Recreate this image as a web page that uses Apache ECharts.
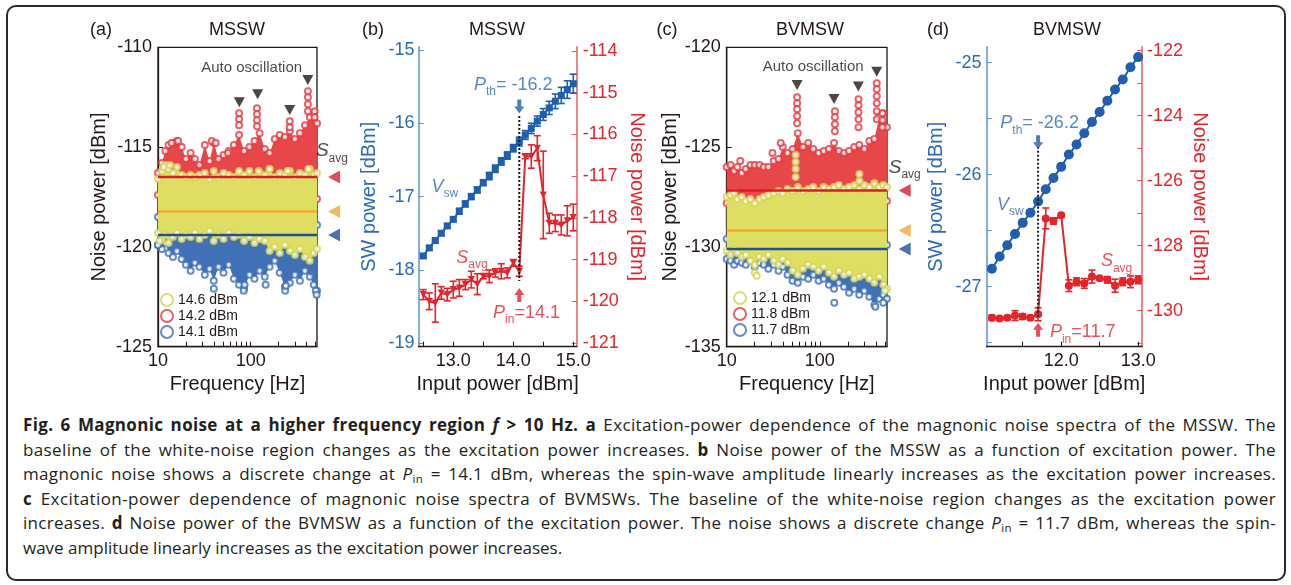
<!DOCTYPE html>
<html>
<head>
<meta charset="utf-8">
<title>Fig. 6 Magnonic noise</title>
<script src="https://cdn.jsdelivr.net/npm/echarts@6/dist/echarts.min.js"></script>
<style>
  html, body { margin: 0; padding: 0; background: #fff; }
  #frame { position: absolute; left: 6px; top: 5px; width: 1280px; height: 576px; box-sizing: border-box;
           border: 2px solid #2b2b2b; border-radius: 10px; }
  #chart { position: absolute; left: 0; top: 0; width: 1291px; height: 400px; }
  #caption { position: absolute; left: 23px; top: 413px; width: 1253px; color: #231f20;
             font-family: "Open Sans", "Noto Sans", sans-serif; font-size: 17px; line-height: 24.5px; }
  #caption .ln { white-space: nowrap; }
  #caption sub { font-size: 11.5px; line-height: 0; vertical-align: -3px; }
</style>
</head>
<body>
<div id="frame"></div>
<div id="chart"></div>
<div id="caption">
  <div class="ln"><span><b>Fig. 6 Magnonic noise at a higher frequency region <i>f</i> &gt; 10 Hz. a</b> Excitation-power dependence of the magnonic noise spectra of the MSSW. The</span></div>
  <div class="ln"><span>baseline of the white-noise region changes as the excitation power increases. <b>b</b> Noise power of the MSSW as a function of excitation power. The</span></div>
  <div class="ln"><span>magnonic noise shows a discrete change at <i>P</i><sub>in</sub> = 14.1 dBm, whereas the spin-wave amplitude linearly increases as the excitation power increases.</span></div>
  <div class="ln"><span><b>c</b> Excitation-power dependence of magnonic noise spectra of BVMSWs. The baseline of the white-noise region changes as the excitation power</span></div>
  <div class="ln"><span>increases. <b>d</b> Noise power of the BVMSW as a function of the excitation power. The noise shows a discrete change <i>P</i><sub>in</sub> = 11.7 dBm, whereas the spin-</span></div>
  <div class="ln last"><span>wave amplitude linearly increases as the excitation power increases.</span></div>
</div>
<script>
// ---- panel (a): MSSW noise spectra (envelopes)
const freqA = [10, 11, 12, 13, 14.5, 16, 18, 20, 22.5, 25, 28, 32, 36, 40, 45, 51, 58, 66, 75, 85, 97, 110, 125, 142, 160, 182, 206, 234, 265, 300, 340, 385, 435, 480, 520];
const redHiA = [-116.3, -115.8, -115.2, -114.9, -114.8, -114.7, -115.0, -115.6, -115.3, -115.6, -115.9, -114.9, -115.7, -114.8, -115.6, -115.4, -115.2, -114.9, -114.4, -115.2, -115.0, -114.7, -114.3, -115.1, -115.3, -114.6, -114.4, -114.5, -114.2, -114.6, -114.3, -113.9, -113.5, -113.3, -113.8];
const redLoA = [-117.4, -117.8, -118.0, -117.9, -117.6, -117.8, -117.5, -117.7, -117.6, -117.4, -117.7, -117.5, -117.6, -117.5, -117.7, -117.4, -117.6, -117.5, -117.4, -117.6, -117.5, -117.6, -117.4, -117.5, -117.6, -117.5, -117.4, -117.6, -117.5, -117.4, -117.5, -117.6, -117.4, -117.5, -117.6];
const yelHiA = [-116.6, -116.2, -115.9, -116.1, -116.3, -116.0, -116.4, -116.5, -116.4, -116.5, -116.4, -116.3, -116.6, -116.2, -116.5, -116.3, -116.4, -116.5, -116.3, -116.4, -116.2, -116.5, -116.3, -116.4, -116.1, -116.5, -116.3, -116.4, -116.2, -116.5, -116.3, -116.4, -116.1, -116.4, -116.3];
const yelLoA = [-119.3, -119.6, -119.4, -119.8, -119.5, -119.3, -119.6, -119.4, -119.5, -119.3, -119.6, -119.4, -119.2, -119.7, -119.4, -119.6, -119.3, -119.5, -119.4, -119.7, -119.5, -119.8, -119.6, -119.7, -120.2, -120.0, -120.3, -119.9, -120.2, -120.4, -120.1, -120.5, -120.7, -120.3, -120.1];
const bluHiA = [-118.5, -118.6, -118.8, -118.9, -119.0, -118.8, -119.0, -118.9, -119.0, -118.9, -119.0, -118.9, -118.7, -118.6, -118.9, -119.0, -118.8, -118.9, -119.0, -118.9, -118.8, -119.0, -118.9, -119.0, -118.9, -119.0, -118.9, -119.0, -118.8, -118.9, -119.0, -118.9, -119.0, -118.8, -118.9];
const bluLoA = [-119.9, -120.1, -119.8, -120.3, -120.5, -120.2, -120.6, -120.9, -121.2, -120.8, -121.0, -121.4, -121.1, -121.7, -121.0, -121.3, -120.9, -121.6, -121.9, -122.1, -121.4, -121.6, -121.2, -121.5, -121.0, -120.7, -121.3, -122.0, -121.8, -121.4, -121.7, -121.2, -121.5, -121.9, -122.2];
const redSpikeA = [[75, -113.3], [75, -113.6], [75, -113.9], [117, -113.05], [117, -113.35], [117, -113.65], [117, -113.95], [264, -113.7], [264, -114.0], [415, -112.2], [415, -112.5], [415, -112.85], [415, -113.2], [490, -113.2], [490, -113.5], [14, -114.8], [16.5, -114.7], [38, -114.7], [42, -114.8], [57, -115.3]];
const yelSpikeA = [[10.4, -119.7], [11.5, -116.0], [13.5, -115.9], [75, -116.2], [122, -116.2], [160, -116.1], [250, -116.2], [420, -116.1]];
const bluSpikeA = [[10, -119.9], [40, -122.1], [84, -122.2], [86, -121.9], [145, -121.9], [236, -122.2], [240, -121.95], [505, -122.2], [515, -122.4]];
const sAvgA = [-116.5, -118.23, -119.4];
const autoOscA = [[75.5, -112.75], [119, -112.35], [264, -113.14], [414, -111.64]];
const legendA = ['14.6 dBm', '14.2 dBm', '14.1 dBm'];

// ---- panel (b): MSSW power sweep
const pinB = [12.5, 12.6, 12.7, 12.8, 12.9, 13.0, 13.1, 13.2, 13.3, 13.4, 13.5, 13.6, 13.7, 13.8, 13.9, 14.0, 14.1, 14.2, 14.3, 14.4, 14.5, 14.6, 14.7, 14.8, 14.9, 15.0];
const vswB = [-17.81, -17.70, -17.60, -17.50, -17.40, -17.31, -17.20, -17.10, -17.00, -16.91, -16.81, -16.72, -16.62, -16.52, -16.44, -16.34, -16.25, -16.16, -16.07, -15.97, -15.88, -15.79, -15.70, -15.62, -15.54, -15.46];
const vswErrB = [0.03, 0.03, 0.03, 0.03, 0.03, 0.03, 0.04, 0.04, 0.04, 0.04, 0.04, 0.05, 0.05, 0.05, 0.05, 0.05, 0.06, 0.06, 0.07, 0.07, 0.08, 0.09, 0.10, 0.11, 0.12, 0.13];
const savgB = [-119.84, -120.00, -120.04, -119.80, -119.84, -119.72, -119.68, -119.60, -119.48, -119.59, -119.40, -119.40, -119.32, -119.28, -119.32, -119.08, -119.28, -116.53, -116.53, -116.33, -117.45, -118.13, -118.13, -118.17, -118.07, -117.99];
const savgErrB = [0.12, 0.2, 0.46, 0.15, 0.15, 0.2, 0.2, 0.12, 0.2, 0.25, 0.06, 0.15, 0.1, 0.18, 0.12, 0.08, 0.12, 0.05, 0.28, 0.3, 1.05, 0.24, 0.2, 0.24, 0.36, 0.32];
const dotB = [[14.1, -15.9], [14.1, -18.15]];

// ---- panel (c): BVMSW noise spectra
const freqC = [10, 11, 12, 13, 14.5, 16, 18, 20, 22.5, 25, 28, 32, 36, 40, 45, 51, 58, 66, 75, 85, 97, 110, 125, 142, 160, 182, 206, 234, 265, 300, 340, 385, 435, 480, 525];
const redHiC = [-126.0, -125.9, -126.2, -126.0, -126.3, -126.1, -125.9, -125.9, -125.9, -126.0, -126.0, -125.7, -125.6, -125.0, -125.3, -125.1, -124.3, -125.0, -124.8, -125.1, -125.3, -125.2, -125.1, -124.8, -125.2, -125.3, -125.2, -125.0, -124.9, -125.1, -124.7, -124.6, -123.5, -123.3, -124.0];
const redLoC = [-127.8, -127.6, -128.0, -128.3, -128.4, -128.2, -128.0, -127.9, -127.8, -127.7, -127.8, -127.6, -127.7, -127.6, -127.8, -127.7, -127.6, -127.8, -127.7, -127.6, -127.7, -127.8, -127.6, -127.7, -127.6, -127.8, -127.7, -127.6, -127.7, -127.8, -127.6, -127.7, -127.6, -127.8, -127.7];
const yelHiC = [-127.5, -127.4, -127.3, -127.6, -127.5, -127.7, -127.6, -127.8, -127.6, -127.5, -127.4, -127.3, -127.2, -127.3, -127.1, -127.2, -127.0, -127.2, -127.1, -127.0, -127.2, -127.0, -127.1, -127.0, -126.9, -127.1, -127.0, -126.9, -127.1, -126.9, -127.0, -126.8, -127.0, -126.9, -127.0];
const yelLoC = [-130.2, -130.4, -130.1, -130.3, -130.5, -130.4, -130.7, -130.9, -130.5, -130.6, -130.4, -130.7, -130.9, -130.6, -130.8, -131.2, -131.4, -131.1, -130.9, -131.0, -131.2, -131.0, -131.3, -131.5, -131.2, -131.4, -131.3, -131.6, -131.5, -131.4, -131.6, -131.8, -131.5, -131.9, -132.1];
const bluHiC = [-129.6, -129.5, -129.8, -129.7, -129.6, -129.8, -129.7, -129.9, -129.8, -129.6, -129.8, -129.7, -129.9, -129.8, -129.9, -129.8, -129.9, -129.8, -129.9, -129.8, -129.9, -129.8, -129.9, -129.8, -129.9, -129.8, -129.9, -129.8, -129.9, -129.8, -129.9, -129.8, -129.9, -129.8, -129.9];
const bluLoC = [-130.6, -130.7, -130.9, -130.7, -130.8, -130.9, -130.7, -131.0, -130.8, -130.9, -131.1, -130.9, -131.2, -131.0, -131.4, -131.7, -131.8, -131.5, -131.6, -131.4, -131.7, -131.6, -131.9, -132.1, -131.8, -132.0, -132.3, -132.1, -132.4, -132.2, -132.5, -132.9, -132.6, -132.4, -132.6];
const redSpikeC = [[57, -122.5], [57, -122.8], [57, -123.1], [57, -123.45], [57, -123.8], [145, -123.2], [145, -123.5], [145, -123.85], [145, -124.2], [260, -122.6], [260, -122.9], [260, -123.25], [260, -123.6], [260, -124.0], [408, -121.8], [408, -122.1], [408, -122.45], [408, -122.8], [408, -123.2], [408, -123.6], [470, -123.3], [470, -123.65], [470, -124.0], [38, -124.8], [31, -125.3], [14, -125.7]];
const yelSpikeC = [[55, -125.4], [55, -125.75], [55, -126.1], [55, -126.5], [266, -126.35], [266, -126.7], [20, -131.3], [21, -131.45], [500, -132.2]];
const bluSpikeC = [[143, -132.8], [395, -133.0], [480, -132.8]];
const sAvgC = [-127.18, -129.18, -130.1];
const autoOscC = [[57, -121.89], [142, -122.59], [259, -121.97], [408, -121.22]];
const legendC = ['12.1 dBm', '11.8 dBm', '11.7 dBm'];

// ---- panel (d): BVMSW power sweep
const pinD = [11.1, 11.2, 11.3, 11.4, 11.5, 11.6, 11.7, 11.8, 11.9, 12.0, 12.1, 12.2, 12.3, 12.4, 12.5, 12.6, 12.7, 12.8, 12.9, 13.0];
const vswD = [-26.84, -26.73, -26.63, -26.53, -26.43, -26.34, -26.24, -26.13, -26.03, -25.93, -25.82, -25.73, -25.63, -25.53, -25.44, -25.34, -25.24, -25.15, -25.04, -24.95];
const vswErrD = [0.02, 0.02, 0.02, 0.02, 0.02, 0.02, 0.02, 0.02, 0.02, 0.02, 0.02, 0.02, 0.02, 0.02, 0.02, 0.02, 0.02, 0.02, 0.02, 0.02];
const savgD = [-130.22, -130.24, -130.22, -130.15, -130.18, -130.22, -130.11, -127.16, -127.24, -127.06, -129.23, -129.11, -129.16, -128.95, -129.0, -129.05, -129.23, -129.11, -129.11, -129.05];
const savgErrD = [0.08, 0.05, 0.06, 0.15, 0.08, 0.06, 0.2, 0.32, 0.1, 0.05, 0.18, 0.12, 0.15, 0.2, 0.05, 0.1, 0.2, 0.12, 0.18, 0.12];
const dotD = [[11.7, -25.75], [11.7, -27.28]];

// tick values
const logTicks = [10, 20, 30, 40, 50, 60, 70, 80, 90, 100, 200, 300, 400, 500];
const logLabels = [10, 100];

const FONT = '"Liberation Sans", Arial, Helvetica, sans-serif';
const DARK = '#231815';
const BLUE = '#1f5fae', BLUE_TXT = '#2b6bb6', BLUE_AX = '#5b90d0';
const RED = '#e5232b', RED_TXT = '#e3262e', RED_AX = '#ec5a5f';
const CLOUD = { red: '#e8474a', yel: '#dedf62', blu: '#4070b6' };
const CIRC = { red: '#e63a3e', yel: '#d4d552', blu: '#3f6fb8' };
const SAVG = { red: '#dc1c28', yel: '#f3a833', blu: '#1f4f9e' };

const txt = (color, size) => ({ color, fontSize: size, fontFamily: FONT });
const sub = (color, big) => ({
  i: { fontFamily: FONT, fontStyle: 'italic', fontSize: big, color, verticalAlign: 'bottom', padding: [0, 0, 4, 0] },
  s: { fontFamily: FONT, fontSize: 12, color, verticalAlign: 'bottom' },
  n: { fontFamily: FONT, fontSize: big, color, verticalAlign: 'bottom', padding: [0, 0, 4, 0] }
});

// filled cloud between an upper and a lower envelope
function cloud(xi, yi, fs, hi, lo, color, z) {
  return {
    type: 'custom', xAxisIndex: xi, yAxisIndex: yi, silent: true, z,
    data: fs.map((f, i) => [f, hi[i], lo[i]]),
    encode: { x: 0, y: [1, 2] },
    renderItem: (params, api) => {
      if (params.dataIndex !== 0) return;
      const top = fs.map((f, i) => api.coord([f, hi[i]]));
      const bot = fs.map((f, i) => api.coord([f, lo[i]])).reverse();
      return { type: 'polygon', shape: { points: top.concat(bot) }, style: { fill: color } };
    }
  };
}

// open circles along the cloud edges plus outliers
function rim(name, xi, yi, fs, hi, lo, extra, color, z) {
  const pts = fs.map((f, i) => [f, hi[i]]).concat(fs.map((f, i) => [f, lo[i]]), extra);
  return {
    name, type: 'scatter', xAxisIndex: xi, yAxisIndex: yi, data: pts, z,
    symbol: 'emptyCircle', symbolSize: 6,
    itemStyle: { color, borderWidth: 1.3 }
  };
}

function errBars(xi, yi, xs, ys, es, color) {
  return {
    type: 'custom', xAxisIndex: xi, yAxisIndex: yi, silent: true, z: 3,
    data: xs.map((x, i) => [x, ys[i] - es[i], ys[i] + es[i]]),
    encode: { x: 0, y: [1, 2] },
    renderItem: (params, api) => {
      const a = api.coord([api.value(0), api.value(1)]);
      const b = api.coord([api.value(0), api.value(2)]);
      const w = 3.5, st = { stroke: color, lineWidth: 1.6 };
      return { type: 'group', children: [
        { type: 'line', shape: { x1: a[0], y1: a[1], x2: b[0], y2: b[1] }, style: st },
        { type: 'line', shape: { x1: a[0] - w, y1: a[1], x2: a[0] + w, y2: a[1] }, style: st },
        { type: 'line', shape: { x1: b[0] - w, y1: b[1], x2: b[0] + w, y2: b[1] }, style: st }
      ] };
    }
  };
}

function note(xi, yi, pt, text, rich, color, size) {
  return {
    type: 'scatter', xAxisIndex: xi, yAxisIndex: yi, data: [pt], symbolSize: 0, silent: true, clip: false, z: 20,
    label: { show: true, position: 'inside', formatter: text, rich, color, fontSize: size, fontFamily: FONT }
  };
}

function hline(xi, yi, x0, x1, v, color) {
  return { type: 'line', xAxisIndex: xi, yAxisIndex: yi, data: [[x0, v], [x1, v]], symbol: 'none',
           lineStyle: { color, width: 2.5 }, z: 9, silent: true };
}

const ARROW_DOWN = 'path://M3,0 L7,0 L7,7 L10,7 L5,14 L0,7 L3,7 Z';
const ARROW_UP = 'path://M5,0 L10,7 L7,7 L7,14 L3,14 L3,7 L0,7 Z';

const chart = echarts.init(document.getElementById('chart'), null, { renderer: 'canvas' });

const boxAxis = { lineStyle: { color: DARK, width: 1.3 } };

const option = {
  animation: false,
  backgroundColor: 'transparent',
  textStyle: { fontFamily: FONT },
  grid: [
    { left: 158, top: 47.3, width: 159, height: 299.4, show: true, borderColor: DARK, borderWidth: 1.3, backgroundColor: 'transparent' },
    { left: 418.5, top: 46.7, width: 158.2, height: 300 },
    { left: 726.7, top: 47.3, width: 160.3, height: 299.4, show: true, borderColor: DARK, borderWidth: 1.3, backgroundColor: 'transparent' },
    { left: 986.5, top: 46.7, width: 155.5, height: 300 }
  ],
  xAxis: [
    { type: 'log', logBase: 10, gridIndex: 0, min: 10, max: 520, axisLine: boxAxis,
      axisTick: { inside: true, length: 5, customValues: logTicks, lineStyle: { color: DARK } },
      axisLabel: { customValues: logLabels, margin: 5, ...txt(DARK, 18) },
      splitLine: { show: false },
      name: 'Frequency [Hz]', nameLocation: 'middle', nameGap: 24, nameTextStyle: txt(DARK, 20) },
    { type: 'value', gridIndex: 1, min: 12.42, max: 15.057,
      axisLine: { lineStyle: { color: DARK, width: 1.3 } },
      axisTick: { inside: true, length: 5, customValues: [12.5, 13, 13.5, 14, 14.5, 15], lineStyle: { color: DARK } },
      axisLabel: { customValues: [13, 14, 15], formatter: v => v.toFixed(1), margin: 5, ...txt(DARK, 18) },
      splitLine: { show: false },
      name: 'Input power [dBm]', nameLocation: 'middle', nameGap: 24, nameTextStyle: txt(DARK, 20) },
    { type: 'log', logBase: 10, gridIndex: 2, min: 10, max: 526, axisLine: boxAxis,
      axisTick: { inside: true, length: 5, customValues: logTicks, lineStyle: { color: DARK } },
      axisLabel: { customValues: logLabels, margin: 5, ...txt(DARK, 18) },
      splitLine: { show: false },
      name: 'Frequency [Hz]', nameLocation: 'middle', nameGap: 24, nameTextStyle: txt(DARK, 20) },
    { type: 'value', gridIndex: 3, min: 11.03, max: 13.05,
      axisLine: { lineStyle: { color: DARK, width: 1.3 } },
      axisTick: { inside: true, length: 5, customValues: [11.5, 12, 12.5, 13], lineStyle: { color: DARK } },
      axisLabel: { customValues: [12, 13], formatter: v => v.toFixed(1), margin: 5, ...txt(DARK, 18) },
      splitLine: { show: false },
      name: 'Input power [dBm]', nameLocation: 'middle', nameGap: 24, nameTextStyle: txt(DARK, 20) }
  ],
  yAxis: [
    { type: 'value', gridIndex: 0, min: -125, max: -110, interval: 5, axisLine: { show: true, ...boxAxis },
      axisTick: { show: true, inside: true, length: 5, lineStyle: { color: DARK } },
      axisLabel: { margin: 6, ...txt(DARK, 18) }, splitLine: { show: false },
      name: 'Noise power [dBm]', nameLocation: 'middle', nameGap: 49, nameTextStyle: txt(DARK, 20) },
    { type: 'value', gridIndex: 1, min: -19.048, max: -14.955,
      axisLine: { show: true, lineStyle: { color: BLUE_AX, width: 1.5 } },
      axisTick: { show: true, inside: true, length: 5, customValues: [-19, -18, -17, -16, -15], lineStyle: { color: BLUE_AX } },
      axisLabel: { customValues: [-19, -18, -17, -16, -15], margin: 4, ...txt(BLUE_TXT, 18) }, splitLine: { show: false },
      name: 'SW power [dBm]', nameLocation: 'middle', nameGap: 39, nameTextStyle: txt(BLUE_TXT, 20) },
    { type: 'value', gridIndex: 1, position: 'right', min: -121.089, max: -113.897,
      axisLine: { show: true, lineStyle: { color: RED_AX, width: 1.5 } },
      axisTick: { show: true, inside: true, length: 5, customValues: [-121, -120, -119, -118, -117, -116, -115, -114], lineStyle: { color: RED_AX } },
      axisLabel: { customValues: [-121, -120, -119, -118, -117, -116, -115, -114], margin: 6, ...txt(RED_TXT, 18) }, splitLine: { show: false },
      name: 'Noise power [dBm]', nameLocation: 'middle', nameRotate: -90, nameGap: 50, nameTextStyle: txt(RED_TXT, 20) },
    { type: 'value', gridIndex: 2, min: -135, max: -120, interval: 5, axisLine: { show: true, ...boxAxis },
      axisTick: { show: true, inside: true, length: 5, lineStyle: { color: DARK } },
      axisLabel: { margin: 6, ...txt(DARK, 18) }, splitLine: { show: false },
      name: 'Noise power [dBm]', nameLocation: 'middle', nameGap: 45, nameTextStyle: txt(DARK, 20) },
    { type: 'value', gridIndex: 3, min: -27.536, max: -24.857,
      axisLine: { show: true, lineStyle: { color: BLUE_AX, width: 1.5 } },
      axisTick: { show: true, inside: true, length: 5, customValues: [-27.5, -27, -26.5, -26, -25.5, -25], lineStyle: { color: BLUE_AX } },
      axisLabel: { customValues: [-27, -26, -25], margin: 5, ...txt(BLUE_TXT, 18) }, splitLine: { show: false },
      name: 'SW power [dBm]', nameLocation: 'middle', nameGap: 40, nameTextStyle: txt(BLUE_TXT, 20) },
    { type: 'value', gridIndex: 3, position: 'right', min: -131.108, max: -121.877,
      axisLine: { show: true, lineStyle: { color: RED_AX, width: 1.5 } },
      axisTick: { show: true, inside: true, length: 5, customValues: [-131, -130, -129, -128, -127, -126, -125, -124, -123, -122], lineStyle: { color: RED_AX } },
      axisLabel: { customValues: [-130, -128, -126, -124, -122], margin: 5, ...txt(RED_TXT, 18) }, splitLine: { show: false },
      name: 'Noise power [dBm]', nameLocation: 'middle', nameRotate: -90, nameGap: 48, nameTextStyle: txt(RED_TXT, 20) }
  ],
  legend: [
    { data: legendA, orient: 'vertical', left: 160, top: 293, itemGap: 2, itemWidth: 12, itemHeight: 12, padding: 0,
      selectedMode: false, textStyle: txt(DARK, 14) },
    { data: legendC, orient: 'vertical', left: 733, top: 291, itemGap: 2, itemWidth: 12, itemHeight: 12, padding: 0,
      selectedMode: false, textStyle: txt(DARK, 14) }
  ],
  graphic: [
    { type: 'text', x: 101, y: 30, style: { text: '(a)', font: '18px ' + FONT, fill: DARK, align: 'center', verticalAlign: 'middle' } },
    { type: 'text', x: 237, y: 30, style: { text: 'MSSW', font: '18px ' + FONT, fill: DARK, align: 'center', verticalAlign: 'middle' } },
    { type: 'text', x: 373, y: 30, style: { text: '(b)', font: '18px ' + FONT, fill: DARK, align: 'center', verticalAlign: 'middle' } },
    { type: 'text', x: 497, y: 30, style: { text: 'MSSW', font: '18px ' + FONT, fill: DARK, align: 'center', verticalAlign: 'middle' } },
    { type: 'text', x: 667, y: 30, style: { text: '(c)', font: '18px ' + FONT, fill: DARK, align: 'center', verticalAlign: 'middle' } },
    { type: 'text', x: 810, y: 30, style: { text: 'BVMSW', font: '18px ' + FONT, fill: DARK, align: 'center', verticalAlign: 'middle' } },
    { type: 'text', x: 938, y: 30, style: { text: '(d)', font: '18px ' + FONT, fill: DARK, align: 'center', verticalAlign: 'middle' } },
    { type: 'text', x: 1067, y: 30, style: { text: 'BVMSW', font: '18px ' + FONT, fill: DARK, align: 'center', verticalAlign: 'middle' } }
  ],
  series: [
    // (a) clouds: red, blue, then yellow on top
    cloud(0, 0, freqA, redHiA, redLoA, CLOUD.red, 2),
    rim(legendA[1], 0, 0, freqA, redHiA, redLoA, redSpikeA, CIRC.red, 3),
    cloud(0, 0, freqA, bluHiA, bluLoA, CLOUD.blu, 4),
    rim(legendA[2], 0, 0, freqA, bluHiA, bluLoA, bluSpikeA, CIRC.blu, 5),
    cloud(0, 0, freqA, yelHiA, yelLoA, CLOUD.yel, 6),
    rim(legendA[0], 0, 0, freqA, yelHiA, yelLoA, yelSpikeA, CIRC.yel, 7),
    hline(0, 0, 10, 520, sAvgA[0], SAVG.red),
    hline(0, 0, 10, 520, sAvgA[1], SAVG.yel),
    hline(0, 0, 10, 520, sAvgA[2], SAVG.blu),
    { type: 'scatter', xAxisIndex: 0, yAxisIndex: 0, clip: false, silent: true, z: 10,
      data: [
        { value: [795, sAvgA[0]], itemStyle: { color: SAVG.red } },
        { value: [795, sAvgA[1]], itemStyle: { color: SAVG.yel } },
        { value: [795, sAvgA[2]], itemStyle: { color: SAVG.blu } }
      ], symbol: 'triangle', symbolRotate: 90, symbolSize: [13, 12] },
    { type: 'scatter', xAxisIndex: 0, yAxisIndex: 0, clip: false, silent: true, z: 10, data: autoOscA,
      symbol: 'triangle', symbolRotate: 180, symbolSize: [11, 10], itemStyle: { color: DARK } },
    note(0, 0, [102.6, -111.02], 'Auto oscillation', null, DARK, 15),
    note(0, 0, [753, -115.3], '{i|S}{s|avg}', sub(DARK, 19), DARK, 19),

    // (b)
    errBars(1, 1, pinB, vswB, vswErrB, BLUE),
    { type: 'line', xAxisIndex: 1, yAxisIndex: 1, data: pinB.map((x, i) => [x, vswB[i]]), symbol: 'rect', symbolSize: 7,
      itemStyle: { color: BLUE }, lineStyle: { color: BLUE, width: 2 }, z: 4 },
    errBars(1, 2, pinB, savgB, savgErrB, RED),
    { type: 'line', xAxisIndex: 1, yAxisIndex: 2, data: pinB.map((x, i) => [x, savgB[i]]), symbol: 'triangle', symbolRotate: 180, symbolSize: 7,
      itemStyle: { color: RED }, lineStyle: { color: RED, width: 2 }, z: 4 },
    { type: 'line', xAxisIndex: 1, yAxisIndex: 1, data: dotB, symbol: 'none', silent: true, z: 6,
      lineStyle: { color: '#1a1a1a', width: 2, type: [2, 2] } },
    { type: 'scatter', xAxisIndex: 1, yAxisIndex: 1, data: [[14.1, -15.77]], symbol: ARROW_DOWN, symbolSize: [10, 14],
      itemStyle: { color: BLUE }, silent: true, z: 8 },
    { type: 'scatter', xAxisIndex: 1, yAxisIndex: 2, data: [[14.1, -119.85]], symbol: ARROW_UP, symbolSize: [10, 14],
      itemStyle: { color: RED }, silent: true, z: 8 },
    note(1, 1, [14.0, -15.5], '{i|P}{s|th}{n|= -16.2}', sub(BLUE_TXT, 18), BLUE_TXT, 18),
    note(1, 2, [14.22, -120.33], '{i|P}{s|in}{n|=14.1}', sub(RED_TXT, 18), RED_TXT, 18),
    note(1, 1, [12.86, -16.89], '{i|V}{s|sw}', sub(BLUE_TXT, 18), BLUE_TXT, 18),
    note(1, 2, [13.31, -119.01], '{i|S}{s|avg}', sub(RED_TXT, 18), RED_TXT, 18),

    // (c) clouds
    cloud(2, 3, freqC, redHiC, redLoC, CLOUD.red, 2),
    rim(legendC[1], 2, 3, freqC, redHiC, redLoC, redSpikeC, CIRC.red, 3),
    cloud(2, 3, freqC, bluHiC, bluLoC, CLOUD.blu, 4),
    rim(legendC[2], 2, 3, freqC, bluHiC, bluLoC, bluSpikeC, CIRC.blu, 5),
    cloud(2, 3, freqC, yelHiC, yelLoC, CLOUD.yel, 6),
    rim(legendC[0], 2, 3, freqC, yelHiC, yelLoC, yelSpikeC, CIRC.yel, 7),
    hline(2, 3, 10, 526, sAvgC[0], SAVG.red),
    hline(2, 3, 10, 526, sAvgC[1], SAVG.yel),
    hline(2, 3, 10, 526, sAvgC[2], SAVG.blu),
    { type: 'scatter', xAxisIndex: 2, yAxisIndex: 3, clip: false, silent: true, z: 10,
      data: [
        { value: [815, sAvgC[0]], itemStyle: { color: SAVG.red } },
        { value: [815, sAvgC[1]], itemStyle: { color: SAVG.yel } },
        { value: [815, sAvgC[2]], itemStyle: { color: SAVG.blu } }
      ], symbol: 'triangle', symbolRotate: 90, symbolSize: [13, 12] },
    { type: 'scatter', xAxisIndex: 2, yAxisIndex: 3, clip: false, silent: true, z: 10, data: autoOscC,
      symbol: 'triangle', symbolRotate: 180, symbolSize: [11, 10], itemStyle: { color: DARK } },
    note(2, 3, [84.7, -120.97], 'Auto oscillation', null, DARK, 15),
    note(2, 3, [815, -126.13], '{i|S}{s|avg}', sub(DARK, 19), DARK, 19),

    // (d)
    errBars(3, 4, pinD, vswD, vswErrD, BLUE),
    { type: 'line', xAxisIndex: 3, yAxisIndex: 4, data: pinD.map((x, i) => [x, vswD[i]]), symbol: 'circle', symbolSize: 10,
      itemStyle: { color: BLUE }, lineStyle: { color: BLUE, width: 2 }, z: 4 },
    errBars(3, 5, pinD, savgD, savgErrD, RED),
    { type: 'line', xAxisIndex: 3, yAxisIndex: 5, data: pinD.map((x, i) => [x, savgD[i]]), symbol: 'circle', symbolSize: 8,
      itemStyle: { color: RED }, lineStyle: { color: RED, width: 2 }, z: 4 },
    { type: 'line', xAxisIndex: 3, yAxisIndex: 4, data: dotD, symbol: 'none', silent: true, z: 6,
      lineStyle: { color: '#1a1a1a', width: 2, type: [2, 2] } },
    { type: 'scatter', xAxisIndex: 3, yAxisIndex: 4, data: [[11.7, -25.71]], symbol: ARROW_DOWN, symbolSize: [10, 14],
      itemStyle: { color: BLUE }, silent: true, z: 8 },
    { type: 'scatter', xAxisIndex: 3, yAxisIndex: 5, data: [[11.7, -130.59]], symbol: ARROW_UP, symbolSize: [10, 14],
      itemStyle: { color: RED }, silent: true, z: 8 },
    note(3, 4, [11.72, -25.56], '{i|P}{s|th}{n|= -26.2}', sub(BLUE_TXT, 18), BLUE_TXT, 18),
    note(3, 5, [12.28, -130.73], '{i|P}{s|in}{n|=11.7}', sub(RED_TXT, 18), RED_TXT, 18),
    note(3, 4, [11.34, -26.29], '{i|V}{s|sw}', sub(BLUE_TXT, 18), BLUE_TXT, 18),
    note(3, 5, [12.72, -128.54], '{i|S}{s|avg}', sub(RED_TXT, 18), RED_TXT, 18)
  ]
};

chart.setOption(option);

// stretch each caption line (except the last) to the full width,
// sharing the slack between letter and word spacing
function fitCaption() {
  const lines = document.querySelectorAll('#caption .ln');
  const target = document.getElementById('caption').clientWidth;
  lines.forEach(ln => {
    if (ln.classList.contains('last')) return;
    const span = ln.firstElementChild;
    span.style.wordSpacing = '0px';
    span.style.letterSpacing = '0px';
    const w = span.getBoundingClientRect().width;
    const text = span.textContent.replace(/\s+/g, ' ').trim();
    const spaces = (text.match(/ /g) || []).length;
    const extra = target - w;
    const ls = Math.max(-0.3, Math.min(0.5, (extra * 0.45) / text.length));
    span.style.letterSpacing = ls + 'px';
    const w2 = span.getBoundingClientRect().width;
    if (spaces) span.style.wordSpacing = ((target - w2) / spaces) + 'px';
  });
}
if (document.fonts && document.fonts.ready) document.fonts.ready.then(fitCaption); else fitCaption();
fitCaption();
</script>
</body>
</html>
